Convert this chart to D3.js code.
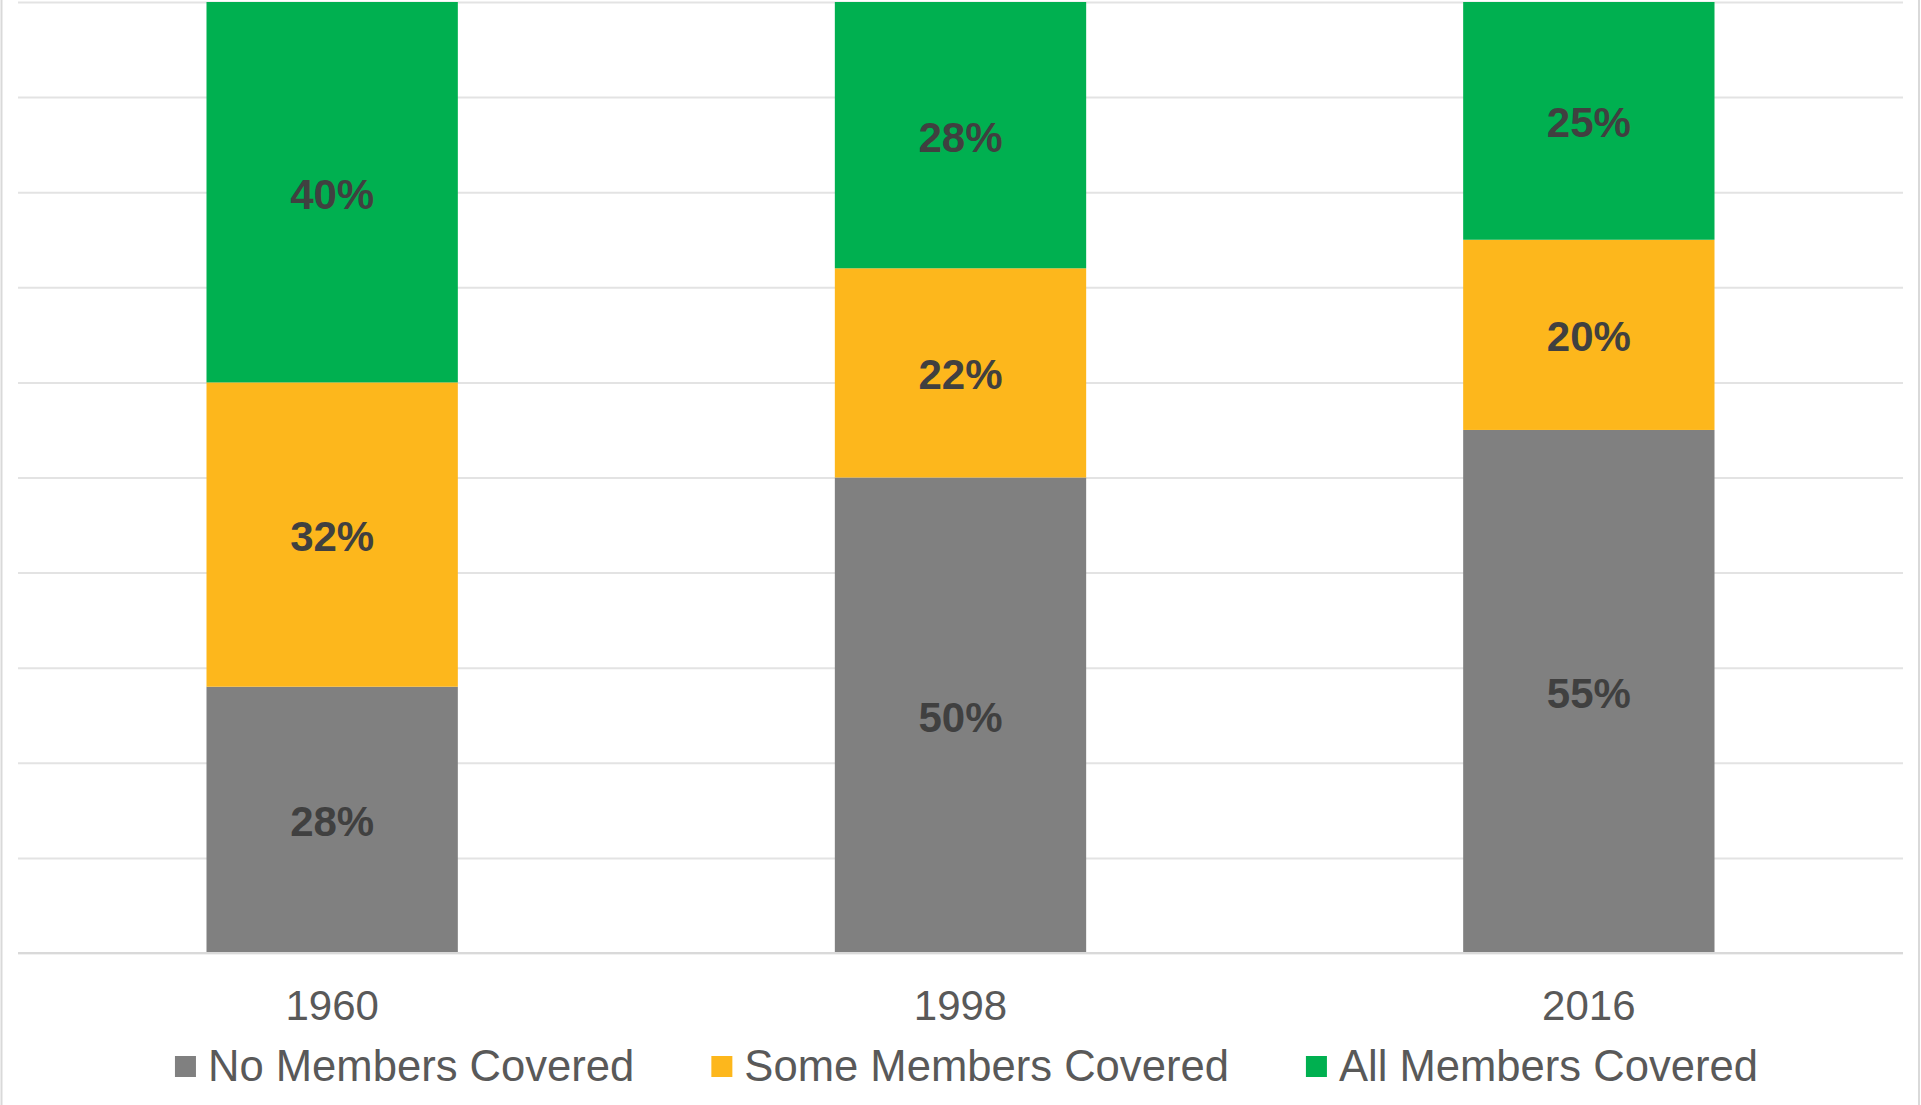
<!DOCTYPE html>
<html>
<head>
<meta charset="utf-8">
<script src="https://cdn.jsdelivr.net/npm/d3@7"></script>
<style>
  html, body { margin: 0; padding: 0; background: #ffffff; }
  svg { display: block; font-family: "Liberation Sans", Arial, sans-serif; }
</style>
</head>
<body>
<svg id="chart" width="1921" height="1105"></svg>
<script>
// Years on the category axis
const years = ["1960", "1998", "2016"];
// Series, stacked bottom to top (percent of households)
const seriesNames = ["No Members Covered", "Some Members Covered", "All Members Covered"];
const noMembers   = [28, 50, 55];
const someMembers = [32, 22, 20];
const allMembers  = [40, 28, 25];
const seriesColors = ["#808080", "#FDB71C", "#00B050"];
const gridTicks = d3.range(0, 101, 10);

const W = 1921, H = 1105;
const margin = { top: 2, right: 18, bottom: 152, left: 18 };

const svg = d3.select("#chart");

// Outer frame edges
svg.append("line").attr("x1", 1.5).attr("x2", 1.5).attr("y1", 0).attr("y2", H)
  .attr("stroke", "#d9d9d9").attr("stroke-width", 2);
svg.append("line").attr("x1", W - 2).attr("x2", W - 2).attr("y1", 0).attr("y2", H)
  .attr("stroke", "#d9d9d9").attr("stroke-width", 2);

const x = d3.scaleBand()
  .domain(years)
  .range([margin.left, W - margin.right])
  .paddingInner(0.6)
  .paddingOuter(0.3);

const y = d3.scaleLinear()
  .domain([0, 100])
  .range([H - margin.bottom, margin.top]);

// Horizontal gridlines
svg.append("g")
  .attr("transform", `translate(${margin.left},0)`)
  .call(d3.axisLeft(y).tickValues(gridTicks).tickSize(-(W - margin.left - margin.right)).tickFormat(""))
  .call(g => g.select(".domain").remove())
  .call(g => g.selectAll(".tick line").attr("stroke", "#e3e3e3").attr("stroke-width", 2));

// Stack the three series
const rows = years.map((yr, i) => ({
  year: yr,
  [seriesNames[0]]: noMembers[i],
  [seriesNames[1]]: someMembers[i],
  [seriesNames[2]]: allMembers[i]
}));
const stacked = d3.stack().keys(seriesNames)(rows);

const layers = svg.append("g").selectAll("g")
  .data(stacked)
  .join("g")
  .attr("fill", (d, i) => seriesColors[i]);

layers.selectAll("rect")
  .data(d => d)
  .join("rect")
  .attr("x", d => x(d.data.year))
  .attr("width", x.bandwidth())
  .attr("y", d => y(d[1]))
  .attr("height", d => y(d[0]) - y(d[1]));

// Value labels centred inside each segment
layers.selectAll("text")
  .data((d) => d.map(v => ({ v, key: d.key })))
  .join("text")
  .attr("x", d => x(d.v.data.year) + x.bandwidth() / 2)
  .attr("y", d => (y(d.v[0]) + y(d.v[1])) / 2)
  .attr("dy", "0.39em")
  .attr("text-anchor", "middle")
  .attr("fill", "#404040")
  .attr("font-weight", "bold")
  .attr("font-size", 42)
  .text(d => `${d.v.data[d.key]}%`);

// Baseline
svg.append("line")
  .attr("x1", margin.left).attr("x2", W - margin.right)
  .attr("y1", y(0)).attr("y2", y(0))
  .attr("stroke", "#d9d9d9").attr("stroke-width", 2);

// Category axis labels
const xAxis = svg.append("g")
  .attr("transform", `translate(0,${y(0)})`)
  .call(d3.axisBottom(x).tickSize(0).tickPadding(0));
xAxis.select(".domain").remove();
xAxis.selectAll("text")
  .attr("y", 67)
  .attr("dy", 0)
  .attr("fill", "#595959")
  .attr("font-size", 42)
  .attr("font-family", "'Liberation Sans', Arial, sans-serif");

// Legend, centred below the axis
const legendY = 1081;
const sw = 21, gapIn = 12, gapOut = 77;
const legend = svg.append("g");
const items = legend.selectAll("g")
  .data(seriesNames)
  .join("g");
items.append("rect")
  .attr("width", sw).attr("height", sw)
  .attr("y", legendY - 25)
  .attr("fill", (d, i) => seriesColors[i]);
items.append("text")
  .attr("x", sw + gapIn)
  .attr("y", legendY)
  .attr("fill", "#595959")
  .attr("font-size", 43.6)
  .text(d => d);

let widths = [];
items.each(function () {
  widths.push(sw + gapIn + d3.select(this).select("text").node().getComputedTextLength());
});
const total = d3.sum(widths) + gapOut * (widths.length - 1);
let cx = (margin.left + W - margin.right) / 2 - total / 2 + 6;
items.attr("transform", (d, i) => {
  const t = `translate(${cx},0)`;
  cx += widths[i] + gapOut;
  return t;
});
</script>
</body>
</html>
